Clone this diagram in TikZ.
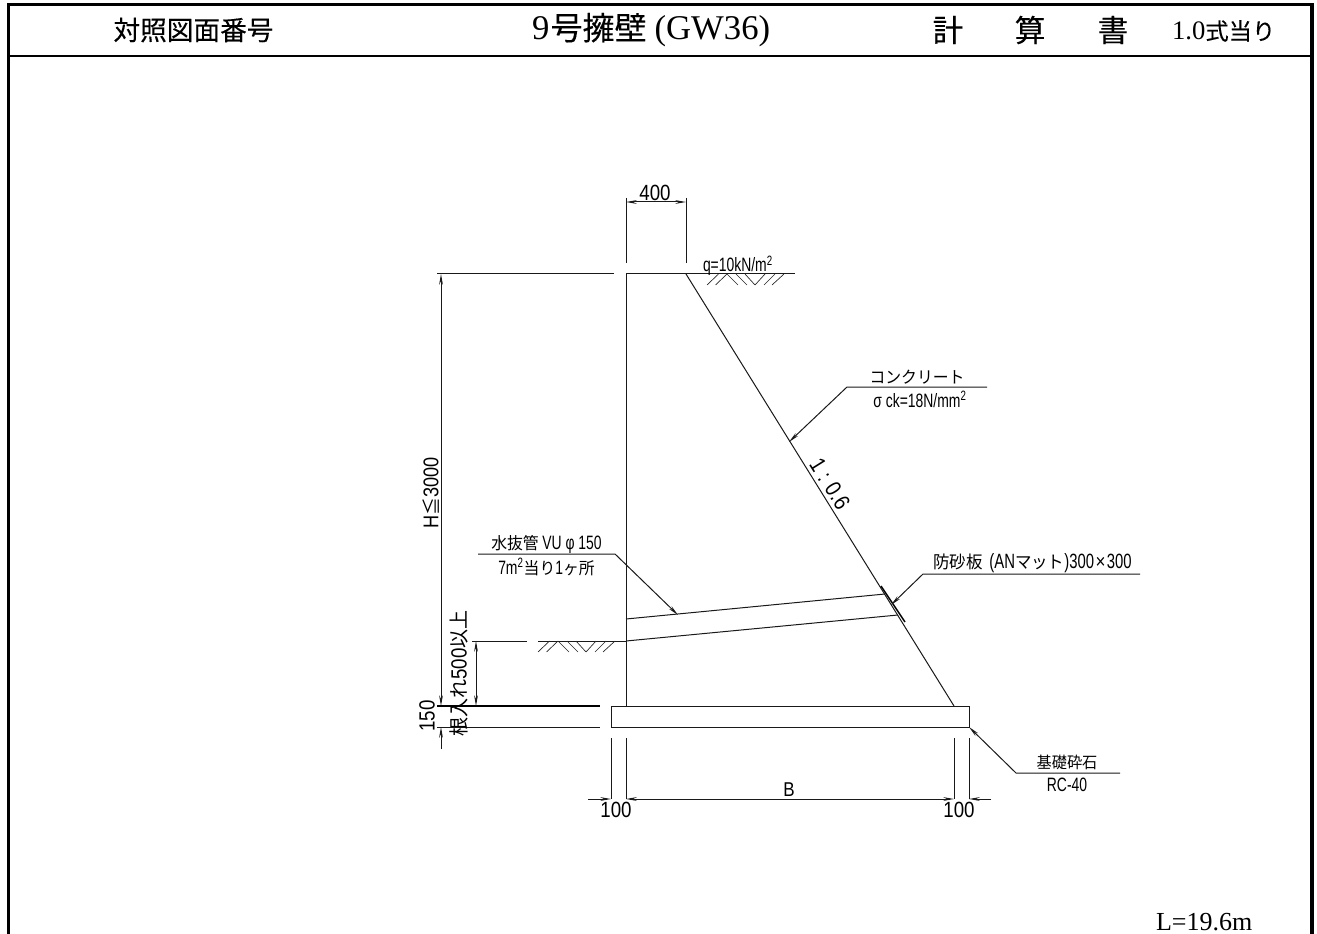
\documentclass[tikz,border=0pt]{standalone}
\usepackage{fontspec}
\usetikzlibrary{arrows.meta}
\setmainfont{Liberation Serif}
\newfontfamily\jptitle[FakeBold=.25]{Noto Sans CJK JP}
\newfontfamily\jpd[FakeStretch=.95]{Noto Sans CJK JP}
\newfontfamily\latd[FakeStretch=.72]{Liberation Sans}
\newfontfamily\latw[FakeStretch=.85]{Liberation Sans}
\newcommand{\fsz}[1]{\fontsize{#1}{#1}\selectfont}
\newcommand{\hatchpat}[2]{%
  \begin{scope}[shift={(#1,#2)},hatchline]
    \draw (0,11)--(11.5,0);
    \draw (8.5,11)--(20,0);
    \draw (20,0)--(31,11);
    \draw (29,0)--(40,11);
    \draw (38,0)--(48,11);
    \draw (48,11)--(58,0);
    \draw (57,11)--(68,0);
    \draw (65,11)--(77,0);
  \end{scope}}
\tikzset{
  frameline/.style={line width=2.3pt,black},
  thin line/.style={line width=.75pt,black!90},
  heavy line/.style={line width=1.1pt,black},
  hatchline/.style={line width=.5pt,black!85},
  dimline/.style={thin line,{Stealth[length=8pt,width=2.8pt]}-{Stealth[length=8pt,width=2.8pt]}},
  oneway/.style={thin line,-{Stealth[length=8pt,width=2.8pt]}},
  lab/.style={inner sep=0pt,outer sep=0pt,text=black},
  title/.style={lab,font=\jptitle\fsz{20}},
  dl/.style={lab,font=\latd\fsz{14.5}},
  dw/.style={lab,font=\latw\fsz{16.5}},
}
\begin{document}
\begin{tikzpicture}[x=.75pt,y=-.75pt]
\useasboundingbox (0,0) rectangle (1317,934);
% frame
\coordinate (fbl) at (8.5,934);
\coordinate (ftl) at (8.5,4.5);
\coordinate (ftr) at (1312,4.5);
\coordinate (fbr) at (1312,934);
\coordinate (hl) at (8.5,56);
\coordinate (hr) at (1312,56);
\draw[frameline] (fbl)--(ftl)--(ftr)--(fbr);
\draw[heavy line] (hl)--(hr);
% titles
\node[title] (t1) at (193.5,30) {対照図面番号};
\node[lab,anchor=west] (t2) at (532,30) {{\fsz{26}9}\hspace{1pt}{\jptitle\fsz{24}号擁壁}\hspace{6pt}{\fsz{26}(GW36)}};
\node[title,font=\jptitle\fsz{23}] (t3) at (948,30) {計};
\node[title,font=\jptitle\fsz{23}] (t4) at (1030,30) {算};
\node[title,font=\jptitle\fsz{23}] (t5) at (1113,30) {書};
\node[lab,anchor=west] (t6) at (1172,31) {{\fsz{20}1.0}{\jptitle\fsz{17.5}式当り}};
\node[lab,anchor=base west,font=\fsz{19.5}] (len) at (1156,930) {L=19.6m};
% body points
\coordinate (wt) at (626,274);
\coordinate (st) at (686,274);
\coordinate (sb) at (954,706);
\coordinate (wb) at (626,706);
\coordinate (gw) at (626,641);
\draw[thin line] (wt)--(wb);
\draw[thin line] (st)--(sb);
% base
\coordinate (bl) at (611,706);
\coordinate (br) at (969,727);
\draw[thin line] (bl) rectangle (br);
% top surface
\coordinate (tl) at (437,274);
\coordinate (tm) at (614,274);
\coordinate (tr) at (795,274);
\draw[thin line] (tl)--(tm);
\draw[thin line] (wt)--(tr);
\hatchpat{707}{274}
% 400 dim
\coordinate (d4a) at (626,202);
\coordinate (d4b) at (686,202);
\coordinate (d4at) at (626,198);
\coordinate (d4ab) at (626,263);
\coordinate (d4bt) at (686,198);
\coordinate (d4bb) at (686,263);
\draw[thin line] (d4at)--(d4ab);
\draw[thin line] (d4bt)--(d4bb);
\draw[dimline] (d4a)--(d4b);
\node[dw] (n400) at (655,193) {400};
\node[dl,anchor=base west] (nq) at (703,272) {q=10kN/m\textsuperscript{2}};
% H dim
\coordinate (hdt) at (441,274);
\coordinate (hdb) at (441,706);
\draw[dimline] (hdt)--(hdb);
\node[lab,rotate=90] (nH) at (431,493) {\latw\fsz{16}H{\jpd\fsz{14}≦}3000};
% ground level left
\coordinate (gl1) at (472,641);
\coordinate (gl2) at (527,641);
\coordinate (gl3) at (538,641);
\draw[thin line] (gl1)--(gl2);
\draw[thin line] (gl3)--(gw);
\hatchpat{538}{641}
% base extension lines
\coordinate (e1a) at (437,706);
\coordinate (e1b) at (600,706);
\coordinate (e2a) at (437,727);
\coordinate (e2b) at (600,727);
\draw[heavy line] (e1a)--(e1b);
\draw[thin line] (e2a)--(e2b);
% embed dim
\coordinate (emt) at (476,641);
\coordinate (emb) at (476,706);
\draw[dimline] (emt)--(emb);
\node[lab,rotate=90] (nem) at (459,673.5) {\jpd\fsz{15}根入れ{\latw\fsz{16.5}500}以上};
% 150 dim
\coordinate (d15a) at (441,749);
\coordinate (d15b) at (441,727);
\draw[oneway] (d15a)--(d15b);
\node[dw,rotate=90] (n150) at (427,716) {150};
% drain pipe
\coordinate (pu1) at (626,619);
\coordinate (pu2) at (885,594);
\coordinate (pl2) at (898,615);
\draw[thin line] (pu1)--(pu2);
\draw[thin line] (gw)--(pl2);
% sand board
\coordinate (m1) at (881,586);
\coordinate (m2) at (905,622);
\draw[heavy line] (m1)--(m2);
% leaders
\coordinate (la1) at (987,387);
\coordinate (la2) at (847,387);
\coordinate (la3) at (789,442);
\draw[oneway] (la1)--(la2)--(la3);
\node[lab,font=\jpd\fsz{12.5}] (nc) at (917,377) {コンクリート};
\node[dl] (ns) at (920,399) {σ ck=18N/mm\textsuperscript{2}};
\node[dw,rotate=-58,font=\latw\fsz{17}] (nr) at (830,484) {1 : 0.6};
\coordinate (lb1) at (1140,574);
\coordinate (lb2) at (923,574);
\coordinate (lb3) at (891,605);
\draw[oneway] (lb1)--(lb2)--(lb3);
\node[lab] (nb) at (1032.5,563) {\jpd\fsz{13}防砂板\hspace{5pt}{\latd\fsz{15.5}(AN}マット{\latd\fsz{15.5})300}\hspace{1pt}{\latw\fsz{15}×}\hspace{1pt}{\latd\fsz{15.5}300}};
\coordinate (lw1) at (478,554);
\coordinate (lw2) at (615,554);
\coordinate (lw3) at (678,615);
\draw[oneway] (lw1)--(lw2)--(lw3);
\node[lab] (nw1) at (546.5,544) {\jpd\fsz{12.5}水抜管 {\latd\fsz{14.5}VU φ 150}};
\node[lab] (nw2) at (546.5,567) {{\latd\fsz{14.5}7m\textsuperscript{2}}\jpd\fsz{12.5}当り{\latd\fsz{14.5}1}ヶ所};
\coordinate (lk1) at (1120,773);
\coordinate (lk2) at (1016,773);
\coordinate (lk3) at (969,727);
\draw[oneway] (lk1)--(lk2)--(lk3);
\node[lab,font=\jpd\fsz{12}] (nk) at (1067,762) {基礎砕石};
\node[dl] (nrc) at (1067,785) {RC-40};
% bottom dims
\coordinate (x1t) at (611,738);
\coordinate (x1b) at (611,799);
\coordinate (x2t) at (626,738);
\coordinate (x2b) at (626,799);
\coordinate (x3t) at (954,738);
\coordinate (x3b) at (954,799);
\coordinate (x4t) at (969,738);
\coordinate (x4b) at (969,799);
\coordinate (dl0) at (588,799);
\coordinate (dr0) at (991,799);
\draw[thin line] (x1t)--(x1b);
\draw[thin line] (x2t)--(x2b);
\draw[thin line] (x3t)--(x3b);
\draw[thin line] (x4t)--(x4b);
\draw[oneway] (dl0)--(x1b);
\draw[dimline] (x2b)--(x3b);
\draw[oneway] (dr0)--(x4b);
\node[dw] (n100a) at (616,810) {100};
\node[dw] (n100b) at (959,810) {100};
\node[dw,font=\latw\fsz{15}] (nB) at (789,790) {B};
\end{tikzpicture}
\end{document}
